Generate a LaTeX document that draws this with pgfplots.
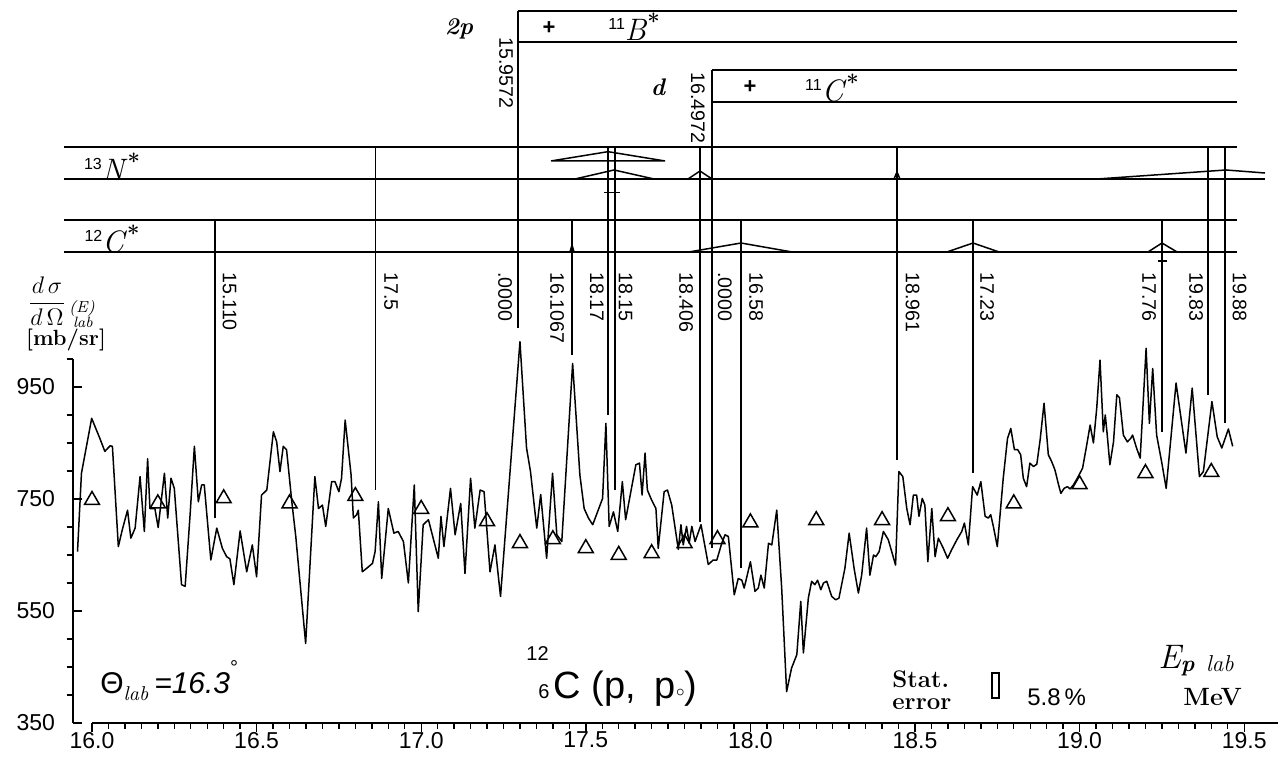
\documentclass[border=0pt]{standalone}
\usepackage{amsmath}
\usepackage{fontspec}
\setsansfont{Liberation Sans}
\usepackage{pgfplots}
\pgfplotsset{compat=1.18}
\pgfplotsset{lv/.style={black, line width=0.75pt, mark=none, forget plot}}
\tikzset{rot/.style={rotate=-90, anchor=west, inner sep=0pt, font=\sffamily\fontsize{9.8}{11}\selectfont}}

\begin{document}
\begin{tikzpicture}
\begin{axis}[
  scale only axis, width=602.5pt, height=359pt,
  xmin=15.94228, xmax=19.60267, ymin=350, ymax=1632.14,
  clip=false,
  axis x line*=bottom, axis y line*=left,
  axis line style={draw=none},
  xtick={16,16.5,17,17.5,18,18.5,19,19.5},
  minor x tick num=9,
  ytick={350,550,750,950},
  minor ytick={400,450,500,600,650,700,800,850,900,1000},
  tick align=outside,
  major tick length=4.5pt, minor tick length=3pt,
  tick style={black, line width=0.7pt},
  major y tick style={xshift=4.5pt},
  tick label style={font=\sffamily\fontsize{11.5}{13}\selectfont},
  /pgf/number format/assume math mode=true,
  yticklabel style={xshift=-1pt},
  xticklabel style={yshift=3.5pt, /pgf/number format/.cd, fixed, fixed zerofill, precision=1},
]
% axis lines (y axis only up to 1000)
\draw[line width=0.75pt] (axis cs:16,350) -- (axis cs:19.60267,350);
\draw[line width=0.75pt] (axis cs:15.94228,350) -- (axis cs:15.94228,1000);

% measured cross section
\addplot[black, line width=0.75pt, line join=round, mark=none] coordinates {
(15.956,656) (15.968,796) (15.999,894) (16.024,858) (16.039,835) (16.055,845)
(16.062,844) (16.080,665) (16.092,695) (16.108,730) (16.118,680) (16.131,698)
(16.146,790) (16.159,692) (16.169,822) (16.176,733) (16.191,733) (16.201,699)
(16.220,796) (16.230,716) (16.240,787) (16.250,769) (16.272,597) (16.283,594)
(16.298,722) (16.311,844) (16.323,745) (16.333,775) (16.341,775) (16.361,641)
(16.379,698) (16.396,662) (16.409,647) (16.419,643) (16.431,597) (16.450,693)
(16.470,620) (16.487,668) (16.500,611) (16.515,757) (16.531,766) (16.551,870)
(16.561,852) (16.571,799) (16.581,844) (16.591,838) (16.607,745) (16.619,683)
(16.649,492) (16.677,790) (16.688,733) (16.700,739) (16.710,701) (16.728,781)
(16.738,781) (16.750,763) (16.758,787) (16.769,891) (16.787,793) (16.794,716)
(16.804,722) (16.809,730) (16.821,620) (16.834,626) (16.852,635) (16.860,656)
(16.870,745) (16.880,608) (16.900,733) (16.917,689) (16.930,692) (16.946,674)
(16.961,600) (16.979,775) (16.991,549) (17.006,704) (17.022,713) (17.052,644)
(17.060,719) (17.069,665) (17.089,769) (17.103,686) (17.120,742) (17.133,617)
(17.150,787) (17.163,698) (17.179,766) (17.191,763) (17.209,620) (17.224,668)
(17.241,576) (17.300,1031) (17.320,841) (17.332,799) (17.351,698) (17.363,758)
(17.381,644) (17.399,796) (17.412,686) (17.427,674) (17.460,992) (17.482,793)
(17.495,733) (17.508,716) (17.521,704) (17.551,751) (17.561,885) (17.571,701)
(17.584,727) (17.597,692) (17.611,781) (17.621,713) (17.652,811) (17.663,814)
(17.671,757) (17.680,832) (17.687,766) (17.700,748) (17.713,733) (17.720,662)
(17.738,763) (17.748,766) (17.761,739) (17.781,660) (17.789,704) (17.796,668)
(17.806,701) (17.814,671) (17.822,701) (17.832,674) (17.850,704) (17.872,633)
(17.887,641) (17.898,641) (17.913,671) (17.923,686) (17.933,683) (17.951,579)
(17.963,608) (17.974,605) (17.981,591) (17.986,603) (18.000,638) (18.014,585)
(18.024,591) (18.032,614) (18.042,591) (18.055,671) (18.065,668) (18.080,730)
(18.095,591) (18.110,406) (18.125,448) (18.141,472) (18.153,567) (18.161,475)
(18.176,573) (18.186,603) (18.196,597) (18.204,605) (18.214,588) (18.222,600)
(18.232,603) (18.247,576) (18.259,570) (18.269,573) (18.287,626) (18.300,689)
(18.315,626) (18.328,582) (18.338,614) (18.353,698) (18.363,614) (18.374,650)
(18.381,647) (18.391,656) (18.404,692) (18.419,677) (18.441,632) (18.451,799)
(18.463,790) (18.475,733) (18.485,704) (18.495,757) (18.505,757) (18.512,719)
(18.522,751) (18.530,739) (18.539,638) (18.551,733) (18.561,647) (18.571,680)
(18.586,662) (18.599,644) (18.611,659) (18.627,677) (18.642,692) (18.650,707)
(18.662,668) (18.675,772) (18.689,757) (18.700,781) (18.713,719) (18.723,716)
(18.730,722) (18.738,701) (18.750,665) (18.768,787) (18.781,858) (18.791,876)
(18.802,838) (18.812,838) (18.821,829) (18.829,787) (18.839,772) (18.849,814)
(18.860,808) (18.870,812) (18.880,855) (18.892,921) (18.905,829) (18.915,817)
(18.925,802) (18.935,778) (18.943,760) (18.953,769) (18.963,772) (18.971,768)
(18.981,775) (18.993,787) (19.009,805) (19.020,841) (19.032,882) (19.042,850)
(19.052,912) (19.062,998) (19.072,870) (19.078,900) (19.084,864) (19.092,811)
(19.103,852) (19.113,936) (19.121,931) (19.133,864) (19.145,852) (19.155,858)
(19.161,864) (19.173,841) (19.184,823) (19.202,1019) (19.212,885) (19.222,983)
(19.234,864) (19.249,817) (19.263,769) (19.293,957) (19.323,832) (19.342,948)
(19.364,790) (19.376,799) (19.402,924) (19.418,861) (19.432,841) (19.452,875)
(19.465,844)
};

% optical model points
\addplot[only marks, mark=triangle, mark size=4.3pt, mark options={black, line width=0.75pt}] coordinates {
(16.0,748) (16.2,742) (16.4,751) (16.6,742) (16.8,755) (17.0,732) (17.2,710)
(17.3,671) (17.4,678) (17.5,662) (17.6,650) (17.7,653) (17.8,671) (17.9,678)
(18.0,708) (18.2,712) (18.4,712) (18.6,719) (18.8,742) (19.0,776) (19.2,796)
(19.4,798)
};

% level scheme: frames
\addplot[lv] coordinates {(17.2940,1621.4) (19.4781,1621.4)};
\addplot[lv] coordinates {(17.2940,1566.1) (19.4781,1566.1)};
\addplot[lv] coordinates {(17.8834,1516.1) (19.4781,1516.1)};
\addplot[lv] coordinates {(17.8834,1458.9) (19.4781,1458.9)};
\addplot[lv] coordinates {(15.9149,1378.6) (19.4781,1378.6)};
\addplot[lv] coordinates {(15.9149,1321.4) (19.5632,1321.4)};
\addplot[lv] coordinates {(15.9149,1248.2) (19.4781,1248.2)};
\addplot[lv] coordinates {(15.9149,1191.1) (19.4781,1191.1)};

% thresholds and resonance positions
\addplot[lv] coordinates {(17.2940,1621.4) (17.2940,1055)};
\addplot[lv] coordinates {(17.8834,1516.1) (17.8834,663)};
\addplot[lv] coordinates {(16.3736,1248.2) (16.3736,716)};
\addplot[lv] coordinates {(16.8612,1378.6) (16.8612,766)};
\addplot[lv] coordinates {(17.4581,1248.2) (17.4581,1007)};
\addplot[lv] coordinates {(17.5675,1378.6) (17.5675,900)};
\addplot[lv] coordinates {(17.5887,1378.6) (17.5887,766)};
\addplot[lv] coordinates {(17.8469,1378.6) (17.8469,709)};
\addplot[lv] coordinates {(17.9715,1248.2) (17.9715,627)};
\addplot[lv] coordinates {(18.4453,1378.6) (18.4453,820)};
\addplot[lv] coordinates {(18.6762,1248.2) (18.6762,796)};
\addplot[lv] coordinates {(19.2503,1248.2) (19.2503,870)};
\addplot[lv] coordinates {(19.3900,1378.6) (19.3900,936)};
\addplot[lv] coordinates {(19.4417,1378.6) (19.4417,886)};

% widths
\addplot[lv] coordinates {(17.3943,1353.6) (17.5675,1370.2) (17.7406,1353.6) (17.3943,1353.6)};
\addplot[lv] coordinates {(17.4672,1321.4) (17.5857,1337.5) (17.7072,1321.4)};
\addplot[lv] coordinates {(17.5553,1297.7) (17.6039,1297.7)};
\addplot[lv] coordinates {(17.8104,1321.4) (17.8469,1335.7) (17.8834,1321.4)};
\addplot[lv] coordinates {(18.4362,1321.4) (18.4453,1333.9) (18.4544,1321.4)};
\addplot[lv] coordinates {(19.0529,1321.4) (19.4447,1337.5) (19.5632,1332.1)};
\addplot[lv] coordinates {(17.4520,1191.1) (17.4581,1203.6) (17.4642,1191.1)};
\addplot[lv] coordinates {(17.8135,1191.1) (17.9715,1207.1) (18.1264,1191.1)};
\addplot[lv] coordinates {(18.5972,1191.1) (18.6762,1207.1) (18.7552,1191.1)};
\addplot[lv] coordinates {(19.2078,1191.1) (19.2503,1207.1) (19.2959,1191.1)};
\addplot[lv] coordinates {(19.2382,1175) (19.2655,1175)};

% level labels
\node[rot] at (axis cs:17.2576,1575) {15.9572};
\node[rot] at (axis cs:17.8408,1512.5) {16.4972};
\node[rot] at (axis cs:16.4177,1155.4) {15.110};
\node[rot] at (axis cs:16.9083,1155.4) {17.5};
\node[rot] at (axis cs:17.2546,1155.4) {.0000};
\node[rot] at (axis cs:17.4125,1155.4) {16.1067};
\node[rot] at (axis cs:17.5340,1155.4) {18.17};
\node[rot] at (axis cs:17.6206,1155.4) {18.15};
\node[rot] at (axis cs:17.8044,1155.4) {18.406};
\node[rot] at (axis cs:17.9228,1155.4) {.0000};
\node[rot] at (axis cs:18.0170,1155.4) {16.58};
\node[rot] at (axis cs:18.4924,1155.4) {18.961};
\node[rot] at (axis cs:18.7187,1155.4) {17.23};
\node[rot] at (axis cs:19.2108,1155.4) {17.76};
\node[rot] at (axis cs:19.3536,1155.4) {19.83};
\node[rot] at (axis cs:19.4857,1155.4) {19.88};

\node[font=\bfseries\itshape\fontsize{12}{14}\selectfont] at (axis cs:17.1148,1590.2) {2p};
\node[font=\sffamily\bfseries\fontsize{11}{12}\selectfont] at (axis cs:17.3882,1591.1) {+};
\node[font=\fontsize{15.5}{17}\selectfont] at (axis cs:17.6464,1592.9)
  {\raisebox{0.85ex}{\sffamily\fontsize{8}{8}\selectfont 11}\textit{B}\raisebox{0.85ex}{\bfseries\fontsize{11}{11}\selectfont *}};
\node[font=\bfseries\itshape\fontsize{12}{14}\selectfont] at (axis cs:17.7193,1485.7) {d};
\node[font=\sffamily\bfseries\fontsize{11}{12}\selectfont] at (axis cs:17.9988,1485.7) {+};
\node[font=\fontsize{15.5}{17}\selectfont] at (axis cs:18.2479,1483.9)
  {\raisebox{0.85ex}{\sffamily\fontsize{8}{8}\selectfont 11}\textit{C}\raisebox{0.85ex}{\bfseries\fontsize{11}{11}\selectfont *}};
\node[font=\fontsize{15.5}{17}\selectfont] at (axis cs:16.0608,1342.9)
  {\raisebox{0.85ex}{\sffamily\fontsize{8}{8}\selectfont 13}\textit{N}\raisebox{0.85ex}{\bfseries\fontsize{11}{11}\selectfont *}};
\node[font=\fontsize{15.5}{17}\selectfont] at (axis cs:16.0608,1214.3)
  {\raisebox{0.85ex}{\sffamily\fontsize{8}{8}\selectfont 12}\textit{C}\raisebox{0.85ex}{\bfseries\fontsize{11}{11}\selectfont *}};

% y label
\node[inner sep=0pt, font=\fontsize{12.5}{13}\selectfont] at (axis cs:15.8633,1103) {$\dfrac{d\,\sigma}{d\,\Omega}$};
\node[inner sep=0pt, font=\itshape\fontsize{8}{8}\selectfont] at (axis cs:15.9696,1090) {(E)};
\node[inner sep=0pt, font=\itshape\fontsize{7.5}{8}\selectfont] at (axis cs:15.9726,1065) {lab};
\node[inner sep=0pt, font=\bfseries\fontsize{11}{12}\selectfont] at (axis cs:15.9210,1034) {[mb/sr]};

% annotations in the plot
\node[anchor=base west, inner sep=0pt, font=\sffamily\fontsize{15}{16}\selectfont] at (axis cs:16.0243,403)
  {Θ\raisebox{-0.45ex}{\rmfamily\itshape\fontsize{10}{10}\selectfont lab}\hspace{0.2em}\itshape =16.3\raisebox{1.2ex}{\upshape\fontsize{10}{10}\selectfont °}};
\node[anchor=base west, inner sep=0pt, font=\sffamily\fontsize{19}{20}\selectfont] at (axis cs:17.3184,394.6)
  {\makebox[0pt][l]{\raisebox{19pt}{\fontsize{10}{10}\selectfont 12}}\hspace{6pt}{\fontsize{10}{10}\selectfont 6}\hspace{2pt}C (p,\hspace{0.5em}p\raisebox{1pt}{\fontsize{8}{8}\selectfont$\circ$})};
\node[anchor=north west, inner sep=0pt, align=left, font=\bfseries\fontsize{12}{11}\selectfont] at (axis cs:18.4302,444)
  {Stat.\\error};
\draw[line width=0.6pt] (axis cs:18.7339,394.6) rectangle (axis cs:18.7552,439.3);
\node[anchor=base west, inner sep=0pt, font=\sffamily\fontsize{12}{13}\selectfont] at (axis cs:18.8402,382.1) {5.8\,\%};
\node[anchor=base west, inner sep=0pt] at (axis cs:19.2382,446.4)
  {{\fontsize{17}{18}\selectfont\itshape E}\raisebox{-0.3ex}{\fontsize{11.5}{12}\selectfont\bfseries\itshape p\hspace{0.5em}\mdseries lab}};
\node[anchor=base west, inner sep=0pt, font=\bfseries\fontsize{12.5}{13}\selectfont] at (axis cs:19.3141,382.1) {MeV};

\coordinate (bbTL) at (axis cs:15.72053,1641.07);
\coordinate (bbBR) at (axis cs:19.61786,289.29);
\end{axis}
\pgfresetboundingbox
\path (bbTL) rectangle (bbBR);
\end{tikzpicture}
\end{document}
